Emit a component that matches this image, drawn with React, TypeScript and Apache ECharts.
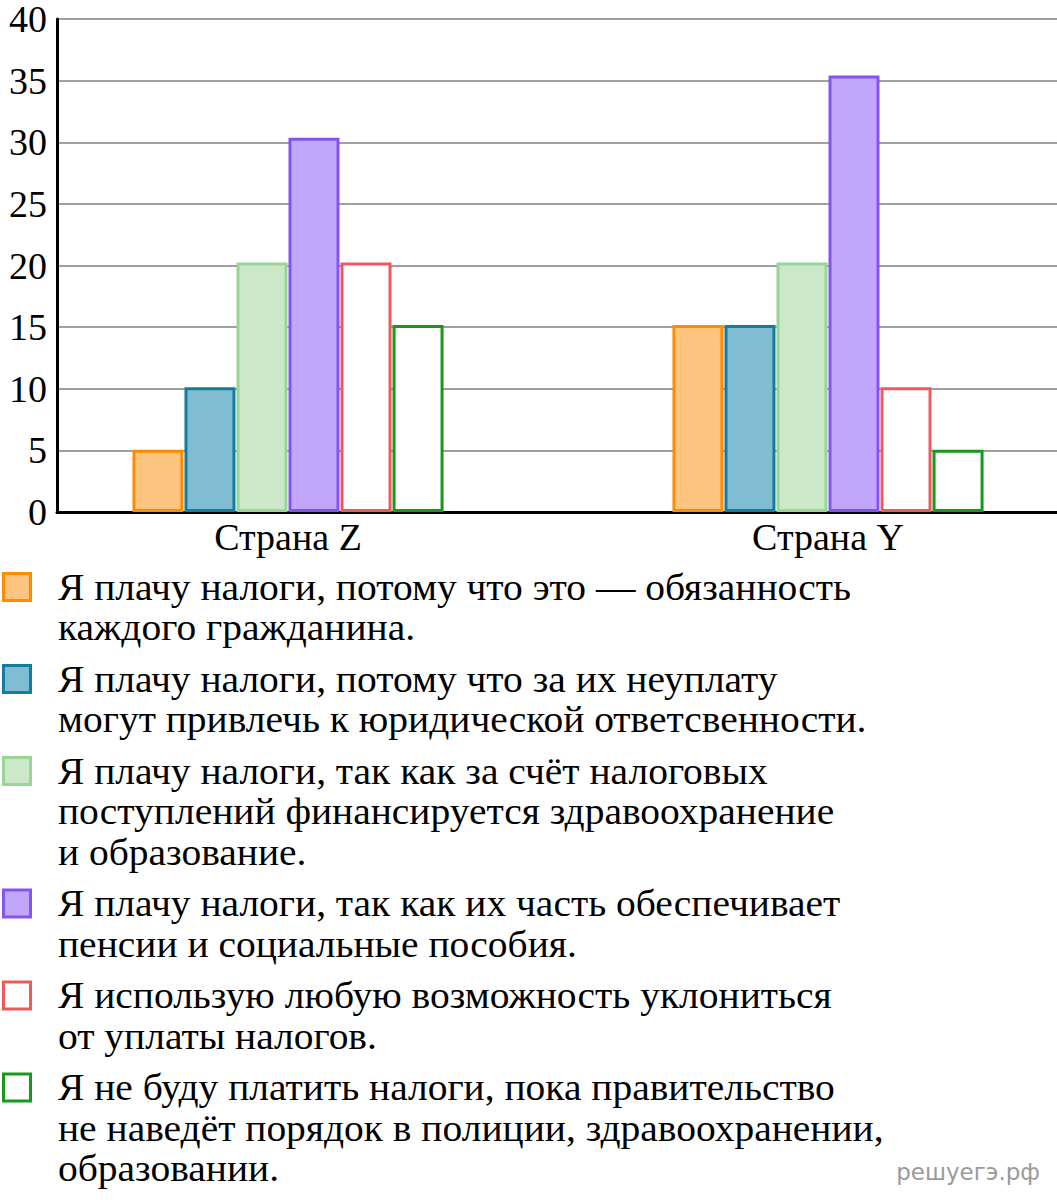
import React, { useEffect, useRef } from "react";
import * as echarts from "echarts";

const countries = ["Страна Z", "Страна Y"];
const yTicks = { min: 0, max: 40, interval: 5 };

const dutyValues = [5, 15];
const liabilityValues = [10, 15];
const healthEduValues = [20, 20];
const pensionsValues = [30, 35];
const evadeValues = [20, 10];
const refuseValues = [15, 5];

const legendLines = [
  ["Я плачу налоги, потому что это — обязанность", "каждого гражданина."],
  ["Я плачу налоги, потому что за их неуплату", "могут привлечь к юридической ответсвенности."],
  ["Я плачу налоги, так как за счёт налоговых", "поступлений финансируется здравоохранение", "и образование."],
  ["Я плачу налоги, так как их часть обеспечивает", "пенсии и социальные пособия."],
  ["Я использую любую возможность уклониться", "от уплаты налогов."],
  ["Я не буду платить налоги, пока правительство", "не наведёт порядок в полиции, здравоохранении,", "образовании."],
];

const fills = ["#fdc47f", "#80bcd2", "#cbe8c8", "#c1a7fb", "#ffffff", "#ffffff"];
const borders = ["#ff8c00", "#167c9e", "#98d597", "#8354f0", "#ee5a5a", "#17991a"];

const seriesValues = [dutyValues, liabilityValues, healthEduValues, pensionsValues, evadeValues, refuseValues];

const SERIF = "'Liberation Serif', 'Times New Roman', serif";

export default function App() {
  const ref = useRef<HTMLDivElement>(null);

  useEffect(() => {
    if (!ref.current) return;
    const chart = echarts.init(ref.current, undefined, { renderer: "svg" });

    const lineH = 40.5;
    const gap = 11;
    const graphics: any[] = [];
    let c = 587;
    legendLines.forEach((lines, i) => {
      graphics.push({
        type: "rect",
        shape: { x: 3.5, y: c - 13.5, width: 27, height: 27 },
        style: { fill: fills[i], stroke: borders[i], lineWidth: 3 },
      });
      graphics.push({
        type: "text",
        x: 58,
        y: c - lineH / 2,
        scaleX: 1.067,
        style: {
          text: lines.join("\n"),
          font: `37px ${SERIF}`,
          fill: "#000",
          lineHeight: lineH,
          verticalAlign: "top",
          align: "left",
        },
      });
      c += lines.length * lineH + gap;
    });
    graphics.push({
      type: "text",
      x: 1040,
      y: 1172,
      style: {
        text: "решуегэ.рф",
        font: "23px 'DejaVu Sans', sans-serif",
        fill: "#9a9a9a",
        align: "right",
        verticalAlign: "middle",
      },
    });

    chart.setOption({
      animation: false,
      grid: [
        { left: 57, top: 13, width: 1000, height: 499, containLabel: false },
        { left: 288, top: 13, width: 540, height: 499, containLabel: false },
      ],
      xAxis: [
        {
          gridIndex: 0,
          type: "category",
          data: [""],
          axisLine: { show: true, lineStyle: { color: "#000", width: 3 } },
          axisTick: { show: false },
          axisLabel: { show: false },
          splitLine: { show: false },
        },
        {
          gridIndex: 1,
          type: "category",
          boundaryGap: false,
          data: countries,
          axisLine: { show: false },
          axisTick: { show: false },
          axisLabel: { color: "#000", fontFamily: SERIF, fontSize: 38, margin: 6 },
          splitLine: { show: false },
        },
      ],
      yAxis: [
        {
          gridIndex: 0,
          type: "value",
          min: yTicks.min,
          max: yTicks.max,
          interval: yTicks.interval,
          axisLine: { show: true, lineStyle: { color: "#000", width: 3 } },
          axisTick: { show: false },
          axisLabel: { color: "#000", fontFamily: SERIF, fontSize: 38, lineHeight: 26, margin: 10 },
          splitLine: { show: true, lineStyle: { color: "#a0a0a0", width: 2 } },
        },
        {
          gridIndex: 1,
          type: "value",
          min: yTicks.min,
          max: yTicks.max,
          interval: yTicks.interval,
          show: false,
          splitLine: { show: false },
        },
      ],
      series: seriesValues.map((vals, i) => ({
        type: "bar",
        name: legendLines[i].join(" "),
        xAxisIndex: 1,
        yAxisIndex: 1,
        clip: false,
        data: vals,
        barWidth: 51,
        barGap: "2%",
        itemStyle: { color: fills[i], borderColor: borders[i], borderWidth: 3 },
      })),
      graphic: graphics,
    });

    return () => chart.dispose();
  }, []);

  return (
    <div
      ref={ref}
      style={{ position: "absolute", left: 0, top: 0, width: 1057, height: 1200, background: "#fff" }}
    />
  );
}
